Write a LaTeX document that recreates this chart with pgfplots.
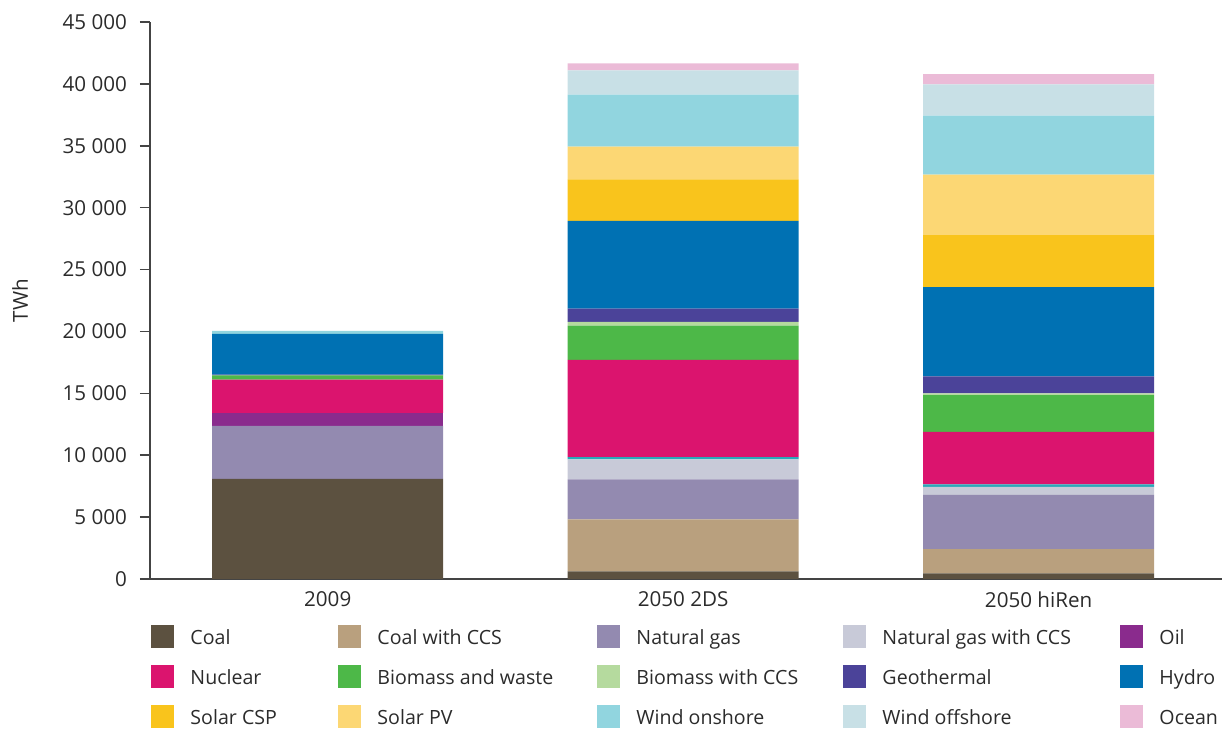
\documentclass[border=0pt]{standalone}
\usepackage{pgfplots}
\pgfplotsset{compat=1.18}
\usepackage{fontspec}
\setmainfont{Open Sans}

\definecolor{txt}{HTML}{2B2B2B}
\definecolor{axisgray}{HTML}{444444}
\definecolor{coal}{HTML}{5C5140}
\definecolor{coalccs}{HTML}{B9A07E}
\definecolor{gas}{HTML}{938AB0}
\definecolor{gasccs}{HTML}{C8CAD8}
\definecolor{oil}{HTML}{8A2B8D}
\definecolor{tealline}{HTML}{2AA9B9}
\definecolor{nuclear}{HTML}{DB146E}
\definecolor{biomass}{HTML}{4DB848}
\definecolor{bioccs}{HTML}{B5DA9E}
\definecolor{geo}{HTML}{4B4399}
\definecolor{hydro}{HTML}{0071B3}
\definecolor{csp}{HTML}{F9C41C}
\definecolor{pv}{HTML}{FCD774}
\definecolor{onshore}{HTML}{91D5DF}
\definecolor{offshore}{HTML}{C8E0E6}
\definecolor{ocean}{HTML}{EBBBD7}

\begin{document}
\begin{tikzpicture}[font=\fontsize{10.3}{12}\selectfont, text=txt]
\begin{axis}[
  scale only axis,
  width=536pt, height=278.5pt,
  ybar stacked,
  bar width=115.5pt,
  xmin=-0.5, xmax=2.516,
  ymin=0, ymax=45000,
  axis x line=bottom, axis y line=left,
  axis line style={-, draw=axisgray, line width=0.75pt},
  xtick=data,
  xticklabels={2009, 2050 2DS, 2050 hiRen},
  xtick style={draw=none},
  xticklabel style={yshift=2pt},
  ytick={0,5000,...,45000},
  scaled y ticks=false,
  yticklabels={0,5 000,10 000,15 000,20 000,25 000,30 000,35 000,40 000,45 000},
  ytick style={draw=axisgray, line width=0.75pt},
  yticklabel style={xshift=-3pt},
  tick align=outside,
  major tick length=5pt,
  ylabel={TWh},
  ylabel style={at={(axis description cs:-0.1213,0.5)}, anchor=center},
  legend columns=5,
  legend image code/.code={\fill[#1] (0pt,-2pt) rectangle (11.5pt,9.5pt);},
  legend style={
    draw=none, fill=none, inner sep=0pt,
    at={(axis description cs:0.001,-0.0826)}, anchor=north west,
    font=\fontsize{9.8}{12}\selectfont,
    nodes={inner sep=0pt, text height=9.5pt, text depth=2pt, anchor=base west},
    /tikz/every odd column/.append style={column sep=8pt},
    /tikz/every even column/.append style={column sep=0pt},
    row sep=8.5pt,
  },
  legend cell align=left,
]
\addplot[fill=coal, draw=none] coordinates {(0,8080) (1,610) (2,450)};
\addlegendentry{\makebox[74pt][l]{Coal}}
\addplot[fill=coalccs, draw=none] coordinates {(0,0) (1,4210) (2,1960)};
\addlegendentry{\makebox[110pt][l]{Coal with CCS}}
\addplot[fill=gas, draw=none] coordinates {(0,4290) (1,3230) (2,4380)};
\addlegendentry{\makebox[103.5pt][l]{Natural gas}}
\addplot[fill=gasccs, draw=none] coordinates {(0,0) (1,1620) (2,660)};
\addlegendentry{\makebox[119pt][l]{Natural gas with CCS}}
\addplot[fill=oil, draw=none] coordinates {(0,1050) (1,0) (2,0)};
\addlegendentry{Oil}
\addplot[fill=tealline, draw=none, forget plot] coordinates {(0,0) (1,170) (2,200)};
\addplot[fill=nuclear, draw=none] coordinates {(0,2690) (1,7860) (2,4240)};
\addlegendentry{Nuclear}
\addplot[fill=biomass, draw=none] coordinates {(0,330) (1,2760) (2,2960)};
\addlegendentry{Biomass and waste}
\addplot[fill=bioccs, draw=none] coordinates {(0,0) (1,310) (2,140)};
\addlegendentry{Biomass with CCS}
\addplot[fill=geo, draw=none] coordinates {(0,70) (1,1080) (2,1370)};
\addlegendentry{Geothermal}
\addplot[fill=hydro, draw=none] coordinates {(0,3300) (1,7080) (2,7210)};
\addlegendentry{Hydro}
\addplot[fill=csp, draw=none] coordinates {(0,0) (1,3350) (2,4220)};
\addlegendentry{Solar CSP}
\addplot[fill=pv, draw=none] coordinates {(0,0) (1,2650) (2,4880)};
\addlegendentry{Solar PV}
\addplot[fill=onshore, draw=none] coordinates {(0,240) (1,4210) (2,4770)};
\addlegendentry{Wind onshore}
\addplot[fill=offshore, draw=none] coordinates {(0,0) (1,1950) (2,2520)};
\addlegendentry{Wind offshore}
\addplot[fill=ocean, draw=none] coordinates {(0,0) (1,560) (2,830)};
\addlegendentry{Ocean}
\end{axis}
\pgfresetboundingbox
\path ([shift={(-75pt,-75pt)}]current axis.south west) rectangle ([shift={(0pt,11pt)}]current axis.north east);
\end{tikzpicture}
\end{document}
